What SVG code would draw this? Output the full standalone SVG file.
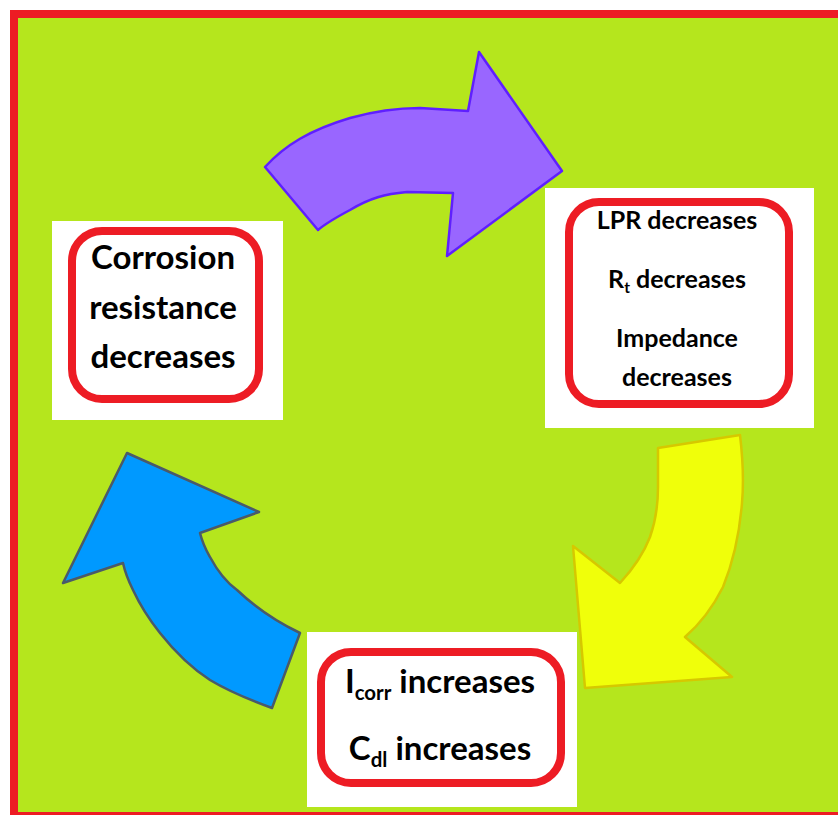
<svg xmlns="http://www.w3.org/2000/svg" width="838" height="815" viewBox="0 0 838 815">
<style>
.box{fill:#ffffff}
.rr{fill:#ffffff;stroke:#ED1C24;stroke-width:8}
.t{font-family:Lato,"Liberation Sans",sans-serif;font-weight:bold;fill:#000;text-anchor:middle}
.big{font-size:33px}
.mid{font-size:25px}
.sub{font-size:0.62em}
</style>
<rect x="0" y="0" width="838" height="815" fill="#ffffff"/>
<rect x="10" y="10" width="840" height="815" fill="#ED1C24"/>
<rect x="18" y="18" width="830" height="794" fill="#B5E61D"/>
<g id="connectors">
<path id="arrow-purple" d="M318,230 L265,167 C285,145 310,130 350,118 C375,111 400,108 420,108 L468,111 L479,52 L562,171 L447,256 L453,193 L407,192 C385,194 370,198 350,210 C335,218 325,224 318,230 Z" fill="#9966FF" stroke="#5F1FFF" stroke-width="2.5" stroke-linejoin="round"/>
<path id="arrow-yellow" d="M658,448 L740,435 C743,460 744,480 742,503 C739,540 732,565 723,587 C713,607 700,624 685,637 L732,677 L585,688 L573,546 L620,583 C632,570 643,555 650,537 C656,520 658,505 658,487 Z" fill="#F0FF0A" stroke="#D6C800" stroke-width="2.5" stroke-linejoin="round"/>
<path id="arrow-blue" d="M127,453 L259,512 L200,533 C203,545 206,550 210,557 C218,572 226,582 237,590 C255,607 275,621 300,633 L272,708 C250,700 230,692 210,680 C190,667 175,652 160,633 C148,618 140,605 133,590 C128,580 125,572 123,563 L63,583 Z" fill="#0099FF" stroke="#4A5A6A" stroke-width="2.5" stroke-linejoin="round"/>
</g>
<g id="node-corrosion">
<rect class="box" x="52" y="221" width="231" height="199"/>
<rect class="rr" x="72" y="231" width="187" height="168" rx="30"/>
<text class="t big" x="163" y="269">Corrosion</text>
<text class="t big" x="163" y="319">resistance</text>
<text class="t big" x="163" y="368">decreases</text>
</g>
<g id="node-lpr">
<rect class="box" x="545" y="188" width="269" height="240"/>
<rect class="rr" x="569" y="202" width="220" height="202" rx="30"/>
<text class="t mid" x="677" y="229">LPR decreases</text>
<text class="t mid" x="677" y="288">R<tspan class="sub" dy="5">t</tspan><tspan dy="-5"> decreases</tspan></text>
<text class="t mid" x="677" y="347">Impedance</text>
<text class="t mid" x="677" y="386">decreases</text>
</g>
<g id="node-icorr">
<rect class="box" x="307" y="632" width="270" height="175"/>
<rect class="rr" x="321" y="652" width="240" height="131" rx="30"/>
<text class="t big" x="440" y="693">I<tspan class="sub" dy="7">corr</tspan><tspan dy="-7"> increases</tspan></text>
<text class="t big" x="440" y="760">C<tspan class="sub" dy="7">dl</tspan><tspan dy="-7"> increases</tspan></text>
</g>
</svg>
